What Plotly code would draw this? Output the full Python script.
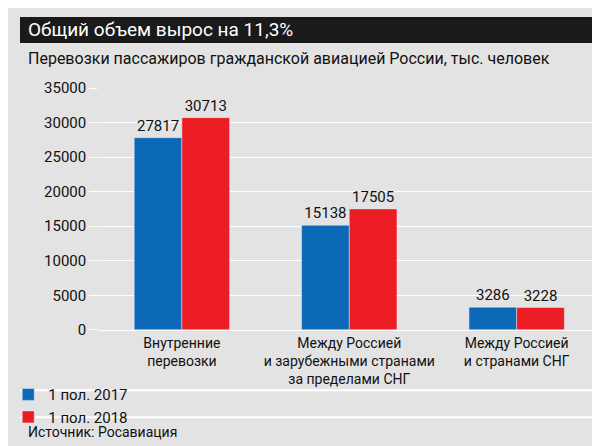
import plotly.graph_objects as go

categories = ["Внутренние<br>перевозки",
              "Между Россией<br>и зарубежными странами<br>за пределами СНГ",
              "Между Россией<br>и странами СНГ"]
values_2017 = [27817, 15138, 3286]
values_2018 = [30713, 17505, 3228]
tick_vals = [0, 5000, 10000, 15000, 20000, 25000, 30000, 35000]
tick_text = ["0", "5000", "10000", "15000", "20000", "25000", "30000", "35000"]

FONT = "Liberation Sans Narrow, Roboto, Arial"
BG = "#e3e3e3"

fig = go.Figure()
fig.add_trace(go.Bar(x=categories, y=values_2017, name="1 пол. 2017", marker_color="#0b69b7",
                     text=values_2017, textposition="outside", textfont=dict(size=15, color="#111"),
                     cliponaxis=False))
fig.add_trace(go.Bar(x=categories, y=values_2018, name="1 пол. 2018", marker_color="#ec1c24",
                     text=values_2018, textposition="outside", textfont=dict(size=15, color="#111"),
                     cliponaxis=False))

fig.update_layout(
    width=600, height=446,
    margin=dict(l=0, r=0, t=0, b=0),
    paper_bgcolor=BG, plot_bgcolor=BG,
    font=dict(family=FONT, size=14, color="#111"),
    barmode="group", bargap=0.43, bargroupgap=0,
    showlegend=True,
    legend=dict(orientation="h", x=-0.02, y=1 - 405 / 446, xanchor="left", yanchor="middle",
                font=dict(size=15), bgcolor="rgba(0,0,0,0)", itemwidth=30,
                entrywidth=115, entrywidthmode="pixels"),
    xaxis=dict(domain=[0.133, 0.987], showgrid=False, ticks="", linecolor="white",
               showline=True, linewidth=1, tickfont=dict(size=14)),
    yaxis=dict(domain=[1 - 326 / 446, 1 - 74 / 446], range=[0, 35000], tickvals=tick_vals,
               ticktext=tick_text,
               gridcolor="white", gridwidth=1, zeroline=False, ticks="outside",
               tickcolor="white", ticklen=8, tickfont=dict(size=15)),
    shapes=[
        dict(type="rect", xref="paper", yref="paper", x0=0, x1=1, y0=1 - 27 / 446, y1=1,
             fillcolor="#1a1a1a", line_width=0, layer="below"),
        dict(type="line", xref="paper", yref="paper", x0=0, x1=1, y0=1 - 389 / 446, y1=1 - 389 / 446,
             line=dict(color="white", width=2)),
        dict(type="line", xref="paper", yref="paper", x0=0, x1=1, y0=1 - 417 / 446, y1=1 - 417 / 446,
             line=dict(color="white", width=2)),
    ],
    annotations=[
        dict(text="Общий объем вырос на 11,3%", xref="paper", yref="paper", x=0.01, y=1 - 13 / 446,
             xanchor="left", yanchor="middle", showarrow=False, font=dict(size=19, color="white")),
        dict(text="Перевозки пассажиров гражданской авиацией России, тыс. человек", xref="paper",
             yref="paper", x=0.01, y=1 - 43 / 446, xanchor="left", yanchor="middle",
             showarrow=False, font=dict(size=16)),
        dict(text="Источник: Росавиация", xref="paper", yref="paper", x=0.01, y=1 - 432 / 446,
             xanchor="left", yanchor="middle", showarrow=False, font=dict(size=14)),
    ],
)

fig.write_html("out.html")
